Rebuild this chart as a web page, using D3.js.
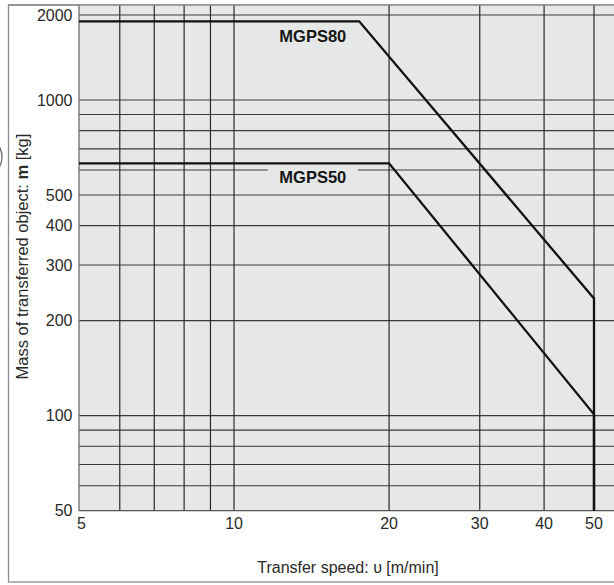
<!DOCTYPE html>
<html>
<head>
<meta charset="utf-8">
<script src="https://cdn.jsdelivr.net/npm/d3@7"></script>
<style>
  html, body { margin: 0; padding: 0; background: #ffffff; }
  svg { display: block; font-family: "Liberation Sans", Arial, Helvetica, sans-serif; }
</style>
</head>
<body>
<svg id="chart" width="614" height="585"></svg>
<script>
// ---- data ----
const xTickValues = [5, 10, 20, 30, 40, 50];
const xGridValues = [6, 7, 8, 9, 10, 20, 30, 40, 50];
const yTickValues = [50, 100, 200, 300, 400, 500, 1000, 2000];
const yGridValues = [60, 70, 80, 90, 100, 200, 300, 400, 500, 600, 700, 800, 900, 1000, 2000];

const seriesNames = ["MGPS80", "MGPS50"];
const mgps80Speed = [5, 17.5, 50, 50];
const mgps80Mass  = [1900, 1900, 235, 50];
const mgps50Speed = [5, 20, 50, 50];
const mgps50Mass  = [630, 630, 101, 50];
// label anchor (speed, mass) for each series (text baseline)
const labelSpeed = [9.9, 9.9];
const labelMass  = [1610, 546];

// ---- layout ----
const svg = d3.select("#chart");
const plotLeft = 79, plotTop = 5, plotBottom = 510.7, plotRight = 640;

const x = d3.scaleLog().domain([5, 50]).range([79, 594]);
// The original artwork places the 2000 line slightly lower than a pure log scale would
const y = d3.scaleLog().domain([50, 1000, 2000]).range([510.7, 100, 15]);

// outer frame
svg.append("rect")
  .attr("x", 8.5).attr("y", 5).attr("width", 640).attr("height", 577)
  .attr("fill", "#ffffff").attr("stroke", "#8c8c8c").attr("stroke-width", 1.3);

// stray bracket fragment from neighbouring figure at left edge
svg.append("path")
  .attr("d", "M -1 146 Q 5 157 -1 168")
  .attr("fill", "none").attr("stroke", "#666").attr("stroke-width", 1.3);

// plot background
svg.append("rect")
  .attr("x", plotLeft).attr("y", plotTop)
  .attr("width", plotRight - plotLeft).attr("height", plotBottom - plotTop)
  .attr("fill", "#e6e8e8");

// horizontal gridlines
svg.append("g").selectAll("line").data(yGridValues).join("line")
  .attr("x1", plotLeft).attr("x2", plotRight)
  .attr("y1", d => y(d)).attr("y2", d => y(d))
  .attr("stroke", "#3a3a3a").attr("stroke-width", 1.1);

// vertical gridlines
svg.append("g").selectAll("line").data(xGridValues).join("line")
  .attr("x1", d => x(d)).attr("x2", d => x(d))
  .attr("y1", plotTop).attr("y2", plotBottom)
  .attr("stroke", "#2a2a2a").attr("stroke-width", 1.2);

// axes lines
svg.append("line").attr("x1", plotLeft).attr("x2", plotLeft)
  .attr("y1", plotTop).attr("y2", plotBottom)
  .attr("stroke", "#6e6e6e").attr("stroke-width", 1.3);
svg.append("line").attr("x1", plotLeft).attr("x2", plotRight)
  .attr("y1", plotBottom).attr("y2", plotBottom)
  .attr("stroke", "#555").attr("stroke-width", 1.3);
svg.append("line").attr("x1", 8).attr("x2", plotRight)
  .attr("y1", plotTop).attr("y2", plotTop)
  .attr("stroke", "#8c8c8c").attr("stroke-width", 1.3);

// y tick labels
svg.append("g").selectAll("text").data(yTickValues).join("text")
  .attr("x", 72.5).attr("y", d => y(d)).attr("dy", "0.36em")
  .attr("text-anchor", "end").attr("font-size", 16).attr("fill", "#2a2a2a")
  .text(d => d);

// x tick labels
svg.append("g").selectAll("text").data(xTickValues).join("text")
  .attr("x", d => x(d) + (d === 5 ? 2.5 : 0)).attr("y", 528.5)
  .attr("text-anchor", "middle").attr("font-size", 16).attr("fill", "#2a2a2a")
  .text(d => d);

// axis titles
svg.append("text")
  .attr("x", 348).attr("y", 573)
  .attr("text-anchor", "middle").attr("font-size", 16).attr("fill", "#2a2a2a")
  .text("Transfer speed: \u03C5 [m/min]");

const yt = svg.append("text")
  .attr("transform", "translate(28,256.5) rotate(-90)")
  .attr("text-anchor", "middle").attr("font-size", 16.5).attr("fill", "#2a2a2a");
yt.append("tspan").text("Mass of transferred object: ");
yt.append("tspan").attr("font-weight", "bold").text("m");
yt.append("tspan").text(" [kg]");

// series lines
const line = d3.line().x(d => x(d[0])).y(d => y(d[1]));
const series = [
  d3.zip(mgps80Speed, mgps80Mass),
  d3.zip(mgps50Speed, mgps50Mass)
];
svg.append("g").selectAll("path").data(series).join("path")
  .attr("d", line)
  .attr("fill", "none").attr("stroke", "#111").attr("stroke-width", 2.3)
  .attr("stroke-linejoin", "miter");

// series labels with background knockout
seriesNames.forEach((name, i) => {
  const cx = x(labelSpeed[i]) + 81;
  const cy = y(labelMass[i]);
  svg.append("rect")
    .attr("x", cx - 45).attr("y", cy - 16).attr("width", 90).attr("height", 19)
    .attr("fill", "#e6e8e8");
  svg.append("text")
    .attr("x", cx).attr("y", cy)
    .attr("text-anchor", "middle").attr("font-size", 16.5).attr("font-weight", "bold")
    .attr("fill", "#151515").text(name);
});
</script>
</body>
</html>
